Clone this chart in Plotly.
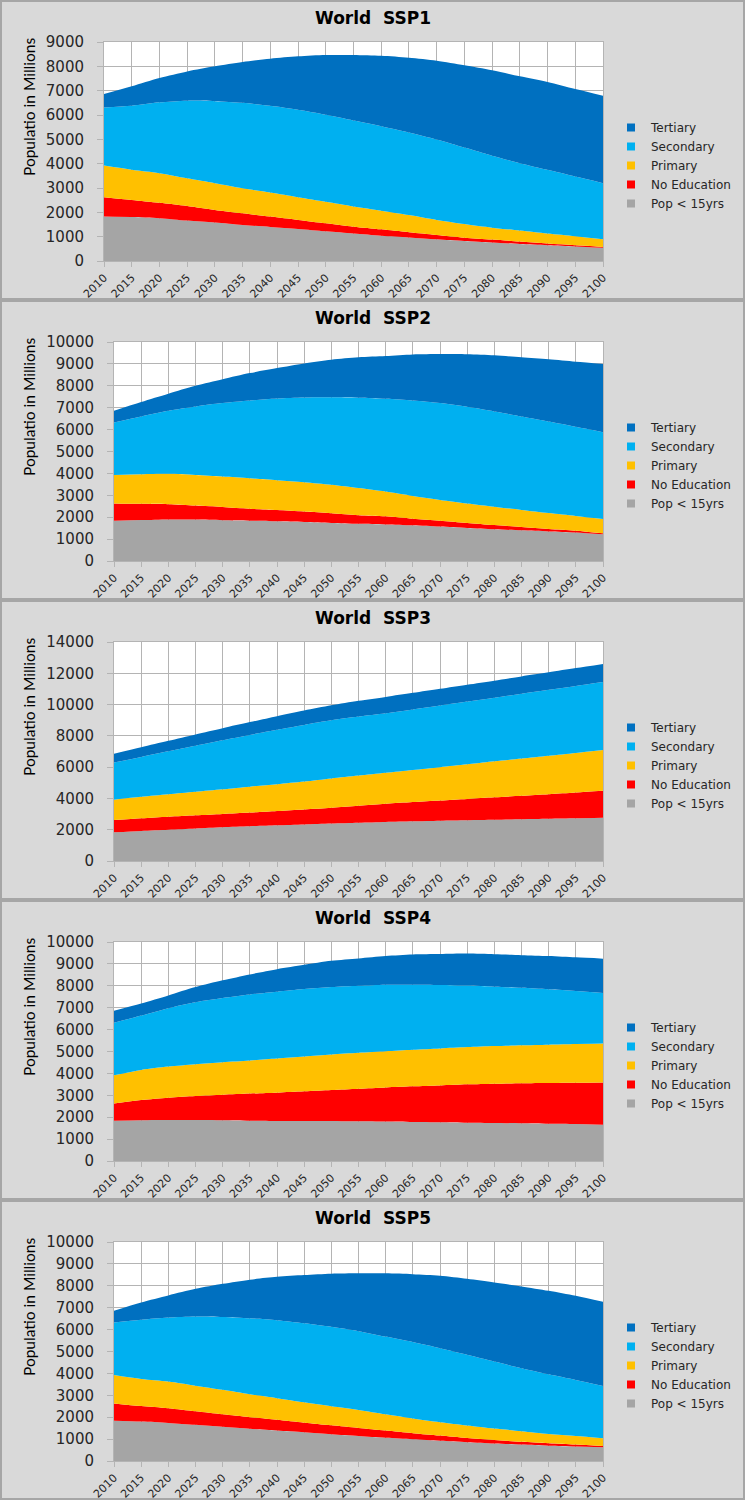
import plotly.graph_objects as go

# ---------------- data (population in millions) ----------------
years = [2010, 2015, 2020, 2025, 2030, 2035, 2040, 2045, 2050, 2055,
         2060, 2065, 2070, 2075, 2080, 2085, 2090, 2095, 2100]

categories = ["Pop < 15yrs", "No Education", "Primary", "Secondary", "Tertiary"]
colors = ["#a5a5a5", "#ff0000", "#ffc000", "#00b0f0", "#0070c0"]

ssp1_pop15 = [1830, 1810, 1760, 1660, 1580, 1480, 1400, 1320, 1220, 1130, 1040, 970, 890, 820, 760, 700, 650, 600, 545]
ssp1_noedu = [790, 700, 630, 600, 520, 480, 425, 370, 330, 280, 260, 210, 180, 140, 120, 100, 65, 45, 35]
ssp1_primary = [1300, 1240, 1220, 1140, 1100, 1030, 985, 930, 880, 830, 770, 710, 620, 560, 490, 450, 410, 370, 310]
ssp1_secondary = [2390, 2630, 2910, 3190, 3370, 3510, 3570, 3595, 3580, 3535, 3470, 3390, 3300, 3140, 2960, 2770, 2620, 2455, 2310]
ssp1_tertiary = [550, 800, 1000, 1200, 1430, 1680, 1935, 2195, 2455, 2690, 2890, 3070, 3240, 3380, 3505, 3570, 3610, 3595, 3590]

ssp2_pop15 = [1840, 1870, 1900, 1890, 1860, 1840, 1810, 1780, 1740, 1700, 1670, 1630, 1570, 1510, 1450, 1400, 1350, 1300, 1220]
ssp2_noedu = [790, 740, 690, 640, 610, 550, 520, 480, 440, 390, 370, 300, 270, 230, 190, 150, 110, 80, 45]
ssp2_primary = [1300, 1350, 1390, 1400, 1390, 1390, 1360, 1340, 1300, 1240, 1130, 1040, 950, 890, 840, 780, 730, 680, 655]
ssp2_secondary = [2390, 2640, 2880, 3130, 3350, 3550, 3730, 3870, 4000, 4130, 4240, 4360, 4420, 4410, 4350, 4270, 4180, 4070, 3960]
ssp2_tertiary = [540, 660, 780, 940, 1090, 1250, 1390, 1550, 1710, 1840, 1950, 2100, 2240, 2400, 2560, 2700, 2840, 2970, 3120]

ssp3_pop15 = [1830, 1920, 2000, 2080, 2160, 2220, 2280, 2340, 2400, 2450, 2500, 2540, 2580, 2610, 2640, 2670, 2700, 2730, 2760]
ssp3_noedu = [790, 810, 830, 840, 850, 880, 920, 960, 1010, 1080, 1160, 1230, 1290, 1360, 1430, 1500, 1570, 1650, 1730]
ssp3_primary = [1300, 1370, 1430, 1500, 1570, 1650, 1710, 1780, 1870, 1930, 1980, 2050, 2130, 2210, 2300, 2380, 2460, 2530, 2610]
ssp3_secondary = [2370, 2550, 2750, 2950, 3140, 3310, 3480, 3620, 3710, 3770, 3800, 3870, 3940, 4010, 4070, 4140, 4210, 4280, 4340]
ssp3_tertiary = [570, 620, 670, 720, 770, 820, 870, 920, 960, 1010, 1050, 1060, 1070, 1080, 1090, 1110, 1120, 1140, 1160]

ssp4_pop15 = [1840, 1860, 1870, 1870, 1860, 1840, 1830, 1830, 1830, 1810, 1800, 1780, 1770, 1750, 1740, 1720, 1700, 1690, 1660]
ssp4_noedu = [780, 920, 1020, 1100, 1170, 1240, 1290, 1350, 1410, 1490, 1560, 1630, 1680, 1750, 1790, 1830, 1860, 1880, 1920]
ssp4_primary = [1300, 1380, 1420, 1450, 1480, 1510, 1560, 1590, 1620, 1640, 1650, 1670, 1690, 1700, 1720, 1730, 1750, 1770, 1780]
ssp4_secondary = [2390, 2480, 2670, 2830, 2930, 3010, 3050, 3080, 3080, 3060, 3040, 2970, 2900, 2810, 2710, 2630, 2530, 2420, 2310]
ssp4_tertiary = [550, 550, 580, 690, 810, 920, 1030, 1110, 1200, 1250, 1310, 1380, 1410, 1460, 1480, 1490, 1520, 1540, 1570]

ssp5_pop15 = [1840, 1800, 1740, 1650, 1560, 1470, 1390, 1310, 1220, 1140, 1060, 990, 920, 860, 800, 750, 700, 665, 630]
ssp5_noedu = [790, 710, 670, 620, 570, 530, 490, 440, 410, 370, 330, 280, 240, 190, 160, 130, 110, 85, 50]
ssp5_primary = [1300, 1240, 1220, 1170, 1120, 1050, 990, 930, 870, 820, 740, 670, 610, 570, 520, 480, 420, 390, 360]
ssp5_secondary = [2390, 2700, 2920, 3160, 3330, 3470, 3560, 3610, 3630, 3600, 3550, 3490, 3380, 3230, 3060, 2880, 2730, 2560, 2390]
ssp5_tertiary = [540, 790, 1010, 1260, 1510, 1760, 1980, 2200, 2420, 2640, 2890, 3100, 3310, 3470, 3610, 3730, 3810, 3840, 3840]

titles = ["World  SSP1", "World  SSP2", "World  SSP3", "World  SSP4", "World  SSP5"]
y_max = [9000, 10000, 14000, 10000, 10000]
y_step = [1000, 1000, 2000, 1000, 1000]
y_title = "Populatio in Millions"

scenarios = [
    [ssp1_pop15, ssp1_noedu, ssp1_primary, ssp1_secondary, ssp1_tertiary],
    [ssp2_pop15, ssp2_noedu, ssp2_primary, ssp2_secondary, ssp2_tertiary],
    [ssp3_pop15, ssp3_noedu, ssp3_primary, ssp3_secondary, ssp3_tertiary],
    [ssp4_pop15, ssp4_noedu, ssp4_primary, ssp4_secondary, ssp4_tertiary],
    [ssp5_pop15, ssp5_noedu, ssp5_primary, ssp5_secondary, ssp5_tertiary],
]

# ---------------- layout geometry (pixels) ----------------
W, H = 745, 1500
PANEL_H = 300
plot_left = [104, 114, 114, 114, 114]
plot_right = 603
plot_top_off = 42
plot_h = 219


def px(x):
    return x / W


def py(y):
    return 1 - y / H


GRID = "#b4b4b4"
TXT = "#262626"

fig = go.Figure()
layout = dict(
    width=W, height=H,
    margin=dict(l=0, r=0, t=0, b=0, autoexpand=False),
    paper_bgcolor="#d9d9d9",
    plot_bgcolor="#ffffff",
    shapes=[], annotations=[],
)

for i, layers in enumerate(scenarios):
    n = "" if i == 0 else str(i + 1)
    xa, ya = "x" + n, "y" + n
    leg = "legend" + n
    top = i * PANEL_H

    for name, vals, col in zip(categories, layers, colors):
        fig.add_trace(go.Scatter(
            x=years, y=vals, name=name, stackgroup="s" + str(i),
            mode="none", fillcolor=col, xaxis=xa, yaxis=ya,
            line=dict(shape="spline", smoothing=0.8, width=0),
            showlegend=False, hoverinfo="skip"))
    # legend entries (Tertiary on top)
    for name, col in zip(categories[::-1], colors[::-1]):
        fig.add_trace(go.Scatter(
            x=[None], y=[None], name=name, mode="markers",
            marker=dict(symbol="square", size=8, color=col),
            xaxis=xa, yaxis=ya, legend=leg, showlegend=True))

    y0 = py(top + plot_top_off + plot_h)
    y1 = py(top + plot_top_off)
    layout["xaxis" + n] = dict(
        domain=[px(plot_left[i]), px(plot_right)], anchor=ya,
        range=[2010, 2100], tickmode="array", tickvals=years,
        ticktext=[str(v) for v in years], tickangle=-45,
        showgrid=True, gridcolor=GRID, gridwidth=1,
        showline=True, linecolor=GRID, mirror=True,
        ticks="outside", ticklen=5, tickcolor=GRID,
        tickfont=dict(family="DejaVu Sans", size=11, color=TXT),
        zeroline=False, fixedrange=True, automargin=False)
    layout["yaxis" + n] = dict(
        domain=[y0, y1], anchor=xa,
        range=[0, y_max[i]], dtick=y_step[i], tick0=0, tickformat="d",
        showgrid=True, gridcolor=GRID, gridwidth=1,
        showline=True, linecolor=GRID, mirror=True,
        ticks="outside", ticklen=6, tickcolor=GRID,
        ticklabelstandoff=10,
        tickfont=dict(family="DejaVu Sans", size=15, color=TXT),
        zeroline=False, fixedrange=True, automargin=False)
    layout[leg] = dict(
        x=px(611), y=py(top + 113), xanchor="left", yanchor="top",
        bgcolor="rgba(0,0,0,0)", borderwidth=0, tracegroupgap=0,
        traceorder="normal",
        font=dict(family="DejaVu Sans", size=12, color=TXT),
        itemwidth=30)

    layout["shapes"].append(dict(
        type="rect", xref="paper", yref="paper",
        x0=px(1), x1=px(744), y0=py(top + 299), y1=py(top + 1),
        line=dict(color="#a6a6a6", width=2), fillcolor="rgba(0,0,0,0)",
        layer="above"))
    layout["annotations"].append(dict(
        text="<b>" + titles[i].replace("  ", "\u00a0 ") + "</b>",
        xref="paper", yref="paper", x=px(372.5), y=py(top + 18),
        xanchor="center", yanchor="middle", showarrow=False,
        font=dict(family="DejaVu Sans", size=17, color="#000000")))
    layout["annotations"].append(dict(
        text=y_title, textangle=-90,
        xref="paper", yref="paper", x=px(29), y=py(top + 107),
        xanchor="center", yanchor="middle", showarrow=False,
        font=dict(family="Lato", size=15.5, color="#000000")))

fig.update_layout(**layout)
fig.write_html(
    "out.html",
    config={"displayModeBar": False, "staticPlot": True},
    post_script="document.body.style.margin='0';"
                "document.body.style.background='#d9d9d9';")
